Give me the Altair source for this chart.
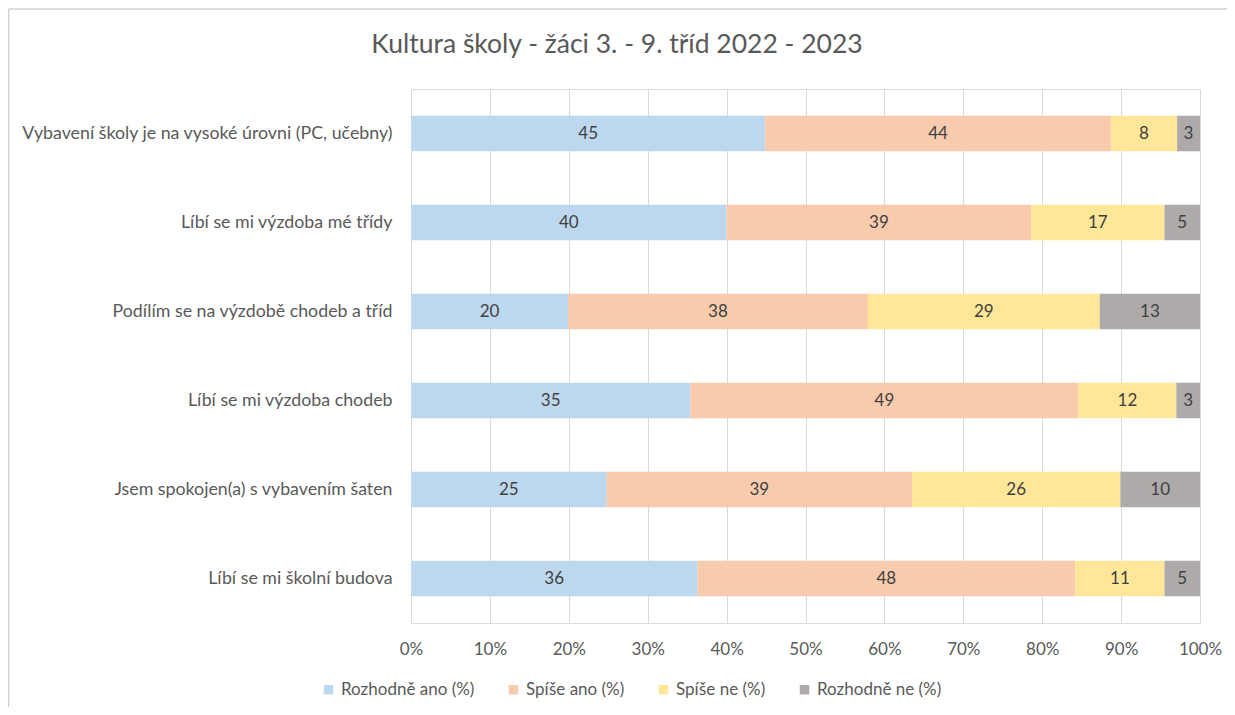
import altair as alt
import pandas as pd

categories = [
    "Vybavení školy je na vysoké úrovni (PC, učebny)",
    "Líbí se mi výzdoba mé třídy",
    "Podílím se na výzdobě chodeb a tříd",
    "Líbí se mi výzdoba chodeb",
    "Jsem spokojen(a) s vybavením šaten",
    "Líbí se mi školní budova",
]
series = ["Rozhodně ano (%)", "Spíše ano (%)", "Spíše ne (%)", "Rozhodně ne (%)"]
rozhodne_ano = [44.9, 40.0, 19.9, 35.4, 24.8, 36.3]
spise_ano = [43.8, 38.6, 38.0, 49.2, 38.7, 47.9]
spise_ne = [8.4, 16.9, 29.4, 12.4, 26.4, 11.3]
rozhodne_ne = [2.9, 4.5, 12.7, 3.0, 10.1, 4.5]
colors = ["#BDD7EE", "#F8CBAD", "#FFE699", "#AEAAAA"]
x_ticks = [i / 10 for i in range(11)]
title_text = "Kultura školy - žáci 3. - 9. tříd 2022 - 2023"

rows = []
for s_i, (name, vals) in enumerate(zip(series, [rozhodne_ano, spise_ano, spise_ne, rozhodne_ne])):
    for c, v in zip(categories, vals):
        rows.append({"category": c, "series": name, "order": s_i, "value": v})
df = pd.DataFrame(rows)

FONT = "Lato"
GRAY = "#595959"

base = alt.Chart(df).transform_stack(
    stack="value",
    groupby=["category"],
    as_=["x0", "x1"],
    sort=[alt.SortField("order", order="ascending")],
    offset="normalize",
).transform_calculate(
    mid="(datum.x0 + datum.x1) / 2",
    label="format(datum.value, '.0f')",
)

y_enc = alt.Y(
    "category:N",
    sort=categories,
    scale=alt.Scale(paddingInner=0.6, paddingOuter=0.3),
    axis=alt.Axis(
        title=None, ticks=False, domain=False, labelPadding=19,
        labelFontSize=17.8, labelColor=GRAY, labelFont=FONT, labelLimit=600,
    ),
)

bars = base.mark_bar(size=35.6).encode(
    x=alt.X(
        "x0:Q",
        scale=alt.Scale(domain=[0, 1], nice=False),
        axis=alt.Axis(
            title=None, format=".0%", values=x_ticks, grid=True, gridColor="#D9D9D9",
            domain=False, ticks=False, labelPadding=18, labelFontSize=17,
            labelColor=GRAY, labelFont=FONT, labelFlush=False,
        ),
    ),
    x2="x1:Q",
    y=y_enc,
    color=alt.Color(
        "series:N",
        scale=alt.Scale(domain=series, range=colors),
        legend=alt.Legend(
            title=None, orient="none", direction="horizontal", legendX=-91, legendY=592,
            symbolType="square", symbolSize=90, symbolStrokeWidth=0,
            labelFontSize=17, labelColor=GRAY, labelFont=FONT, columnPadding=30,
            labelOffset=4,
        ),
    ),
    order=alt.Order("order:Q"),
)

texts = base.mark_text(fontSize=17, font=FONT, color="#404040").encode(
    x=alt.X("mid:Q"),
    y=alt.Y("category:N", sort=categories),
    text="label:N",
)

deco = alt.Chart(pd.DataFrame({"t": [title_text]}))

title = deco.mark_text(
    fontSize=26.5, font=FONT, color=GRAY, align="center", baseline="middle"
).encode(x=alt.value(206), y=alt.value(-44), text="t:N")

top_line = deco.mark_rule(color="#D0D0D0", strokeWidth=1.5).encode(
    x=alt.value(-402.5), x2=alt.value(830), y=alt.value(-80)
)
left_line = deco.mark_rule(color="#D0D0D0", strokeWidth=1.5).encode(
    x=alt.value(-402.5), y=alt.value(-80), y2=alt.value(630)
)

chart = alt.layer(top_line, left_line, title, bars, texts).properties(
    width=789,
    height=534,
    autosize=alt.AutoSizeParams(type="none"),
    padding={"left": 403, "top": 81, "right": 27, "bottom": 84},
).configure_view(stroke=None).configure(background="white")

chart.save("out.html", embed_options={"renderer": "svg", "actions": False})
